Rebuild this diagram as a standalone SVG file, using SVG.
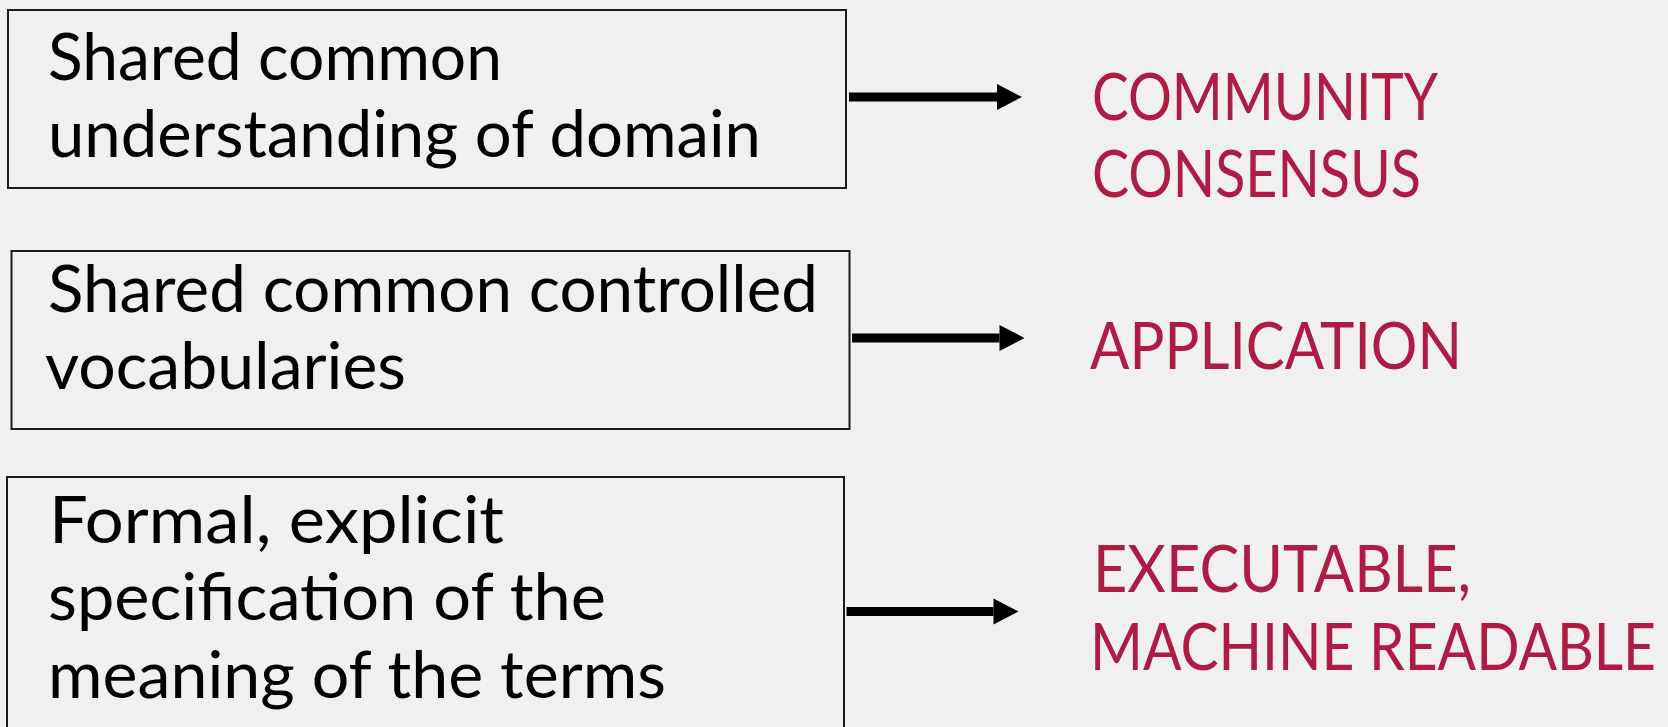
<svg xmlns="http://www.w3.org/2000/svg" width="1668" height="727" viewBox="0 0 1668 727">
<style>
.box{fill:none;stroke:#1a1a1a;stroke-width:2}
.t{font-family:Lato,"Open Sans",sans-serif;font-size:65px;fill:#000}
.r{font-family:Lato,"Open Sans",sans-serif;font-size:65px;fill:#AE1C45}
.ar{stroke:#000;stroke-width:9;fill:none}
</style>
<defs>
<marker id="head" markerUnits="userSpaceOnUse" markerWidth="26" markerHeight="26" refX="0" refY="13" orient="auto" overflow="visible">
<path d="M0,0 L25,13 L0,26 Z" fill="#000"/>
</marker>
</defs>
<rect width="1668" height="727" fill="#F0F0F0"/>
<g id="node1">
<rect class="box" x="8" y="10" width="838" height="178"/>
<text class="t" x="48" y="80" textLength="454" lengthAdjust="spacingAndGlyphs">Shared common</text>
<text class="t" x="48" y="157" textLength="713" lengthAdjust="spacingAndGlyphs">understanding of domain</text>
</g>
<g id="node2">
<rect class="box" x="11.5" y="251" width="838" height="178"/>
<text class="t" x="48" y="312" textLength="770" lengthAdjust="spacingAndGlyphs">Shared common controlled</text>
<text class="t" x="45" y="389" textLength="361" lengthAdjust="spacingAndGlyphs">vocabularies</text>
</g>
<g id="node3">
<rect class="box" x="7" y="477" width="837" height="270"/>
<text class="t" x="49" y="543" textLength="455" lengthAdjust="spacingAndGlyphs">Formal, explicit</text>
<text class="t" x="48" y="620" textLength="558" lengthAdjust="spacingAndGlyphs">specification of the</text>
<text class="t" x="48" y="698" textLength="618" lengthAdjust="spacingAndGlyphs">meaning of the terms</text>
</g>
<g id="out1">
<text class="r" x="1092" y="120" textLength="346" lengthAdjust="spacingAndGlyphs">COMMUNITY</text>
<text class="r" x="1092" y="197" textLength="329" lengthAdjust="spacingAndGlyphs">CONSENSUS</text>
</g>
<g id="out2">
<text class="r" x="1090" y="369" textLength="372" lengthAdjust="spacingAndGlyphs">APPLICATION</text>
</g>
<g id="out3">
<text class="r" x="1093" y="592" textLength="378" lengthAdjust="spacingAndGlyphs">EXECUTABLE,</text>
<text class="r" x="1090" y="670" textLength="566" lengthAdjust="spacingAndGlyphs">MACHINE READABLE</text>
</g>
<g id="connectors">
<path class="ar" d="M849,97 H997" marker-end="url(#head)"/>
<path class="ar" d="M852,338 H999.5" marker-end="url(#head)"/>
<path class="ar" d="M846.5,611.5 H993.5" marker-end="url(#head)"/>
</g>
</svg>
